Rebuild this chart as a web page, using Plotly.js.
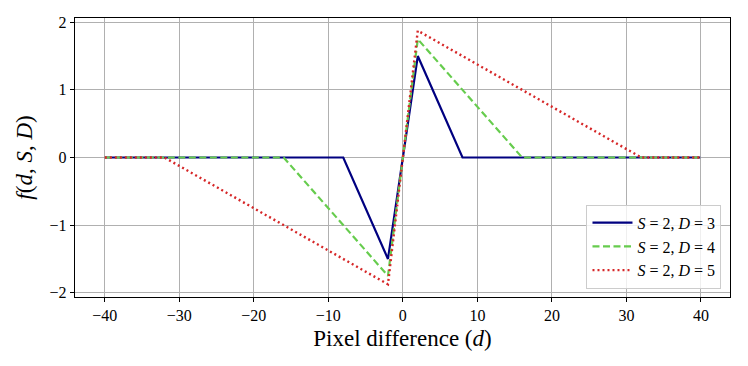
<!DOCTYPE html>
<html><head><meta charset="utf-8">
<script src="https://cdn.plot.ly/plotly-3.0.1.min.js"></script>
<style>html,body{margin:0;padding:0;background:#fff}</style>
</head><body>
<div id="chart" style="width:748px;height:366px"></div>
<script>
// Data
const seriesNames = ["<i>S</i> = 2, <i>D</i> = 3", "<i>S</i> = 2, <i>D</i> = 4", "<i>S</i> = 2, <i>D</i> = 5"];
const xD3 = [-40, -8, -2, 2, 8, 39.9];
const yD3 = [0, 0, -1.5, 1.5, 0, 0];
const xD4 = [-40, -16, -2, 2, 16, 39.9];
const yD4 = [0, 0, -1.75, 1.75, 0, 0];
const xD5 = [-40, -32, -2, 2, 32, 39.9];
const yD5 = [0, 0, -1.875, 1.875, 0, 0];
const xTicks = [-40, -30, -20, -10, 0, 10, 20, 30, 40];
const xTickText = ["\u221240", "\u221230", "\u221220", "\u221210", "0", "10", "20", "30", "40"];
const yTicks = [-2, -1, 0, 1, 2];
const yTickText = ["\u22122", "\u22121", "0", "1", "2"];

const font = "Liberation Serif, DejaVu Serif, serif";
const traces = [
  {x: xD3, y: yD3, name: seriesNames[0], mode: "lines", line: {color: "#000080", width: 2.2}},
  {x: xD4, y: yD4, name: seriesNames[1], mode: "lines", line: {color: "#66cc4d", width: 2.2, dash: "7px,3.5px"}},
  {x: xD5, y: yD5, name: seriesNames[2], mode: "lines", line: {color: "#d62728", width: 2.4, dash: "2px,3px"}}
];
const axisCommon = {
  showline: true, linecolor: "#000", linewidth: 1.2, mirror: true,
  ticks: "outside", ticklen: 4, tickwidth: 1, tickcolor: "#000",
  showgrid: true, gridcolor: "#b0b0b0", gridwidth: 1, zeroline: false,
  tickfont: {family: font, size: 16, color: "#000"}
};
const layout = {
  width: 748, height: 366,
  margin: {l: 75, r: 18, t: 18, b: 69},
  paper_bgcolor: "#fff", plot_bgcolor: "#fff",
  font: {family: font, color: "#000"},
  showlegend: true,
  legend: {x: 0.987, y: 0.03, xanchor: "right", yanchor: "bottom",
    bgcolor: "rgba(255,255,255,0.8)", bordercolor: "#cccccc", borderwidth: 1,
    font: {family: font, size: 16, color: "#000"}, tracegroupgap: 0, itemwidth: 40},
  xaxis: Object.assign({}, axisCommon, {
    range: [-44, 43.9], tickvals: xTicks, ticktext: xTickText,
    title: {text: "Pixel difference (<i>d</i>)", font: {family: font, size: 23}, standoff: 6}
  }),
  yaxis: Object.assign({}, axisCommon, {
    range: [-2.0625, 2.0625], tickvals: yTicks, ticktext: yTickText,
    title: {text: "<i>f</i>(<i>d</i>, <i>S</i>, <i>D</i>)", font: {family: font, size: 23}, standoff: 10}
  })
};
Plotly.newPlot("chart", traces, layout, {displayModeBar: false, staticPlot: true});
</script>
</body></html>
